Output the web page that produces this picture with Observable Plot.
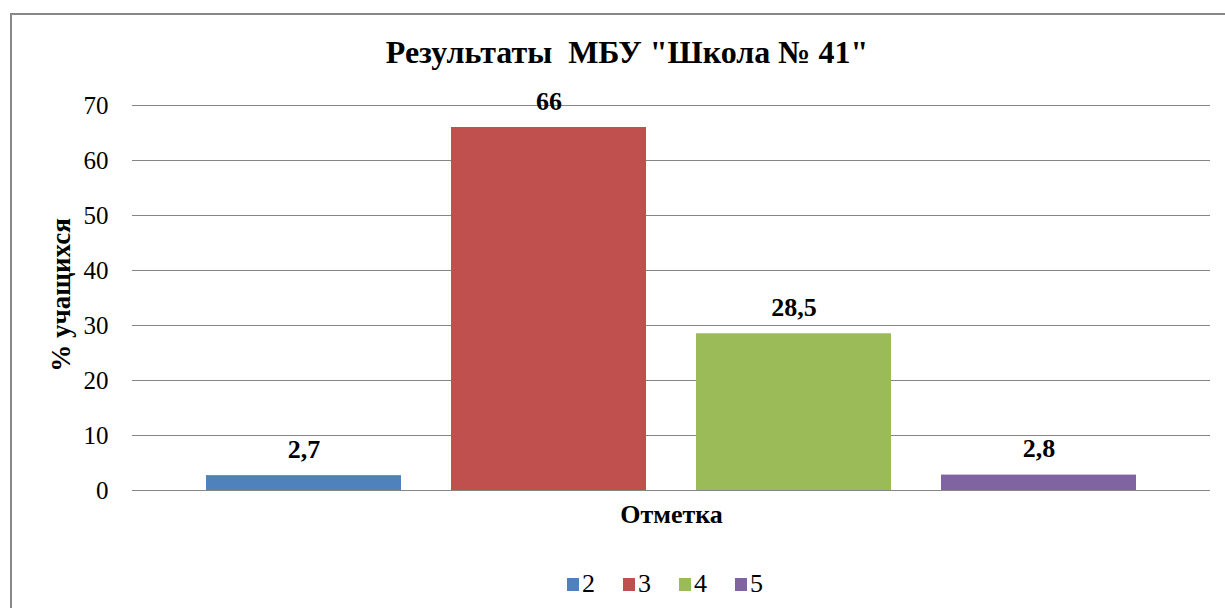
<!DOCTYPE html>
<html>
<head>
<meta charset="utf-8">
<script src="https://cdn.jsdelivr.net/npm/d3@7"></script>
<script src="https://cdn.jsdelivr.net/npm/@observablehq/plot@0.6"></script>
<style>
  html, body { margin: 0; padding: 0; background: #fff; }
  #wrap { position: relative; width: 1225px; height: 608px; overflow: hidden; font-family: 'Liberation Serif'; }
  #border { position: absolute; left: 10px; top: 13px; width: 1300px; height: 700px; border: 2.5px solid #888; box-sizing: border-box; }
  #title { position: absolute; left: 0; width: 1254px; top: 34px; line-height: 36px; text-align: center; font-family: 'Liberation Serif'; font-weight: bold; font-size: 32px; color: #000; white-space: pre; }
  #chart { position: absolute; left: 0; top: 0; }
  #legend { position: absolute; left: 0; width: 1330px; top: 569px; height: 30px; display: flex; justify-content: center; align-items: center; gap: 28px; font-family: 'Liberation Serif'; font-size: 26px; line-height: 30px; color: #000; }
  #legend .item { display: flex; align-items: center; }
  #legend .sw { display: inline-block; width: 12px; height: 13px; margin-right: 3px; margin-top: 1px; }
  #chart svg, #chart svg text { font-family: 'Liberation Serif'; }
</style>
</head>
<body>
<div id="wrap">
  <div id="border"></div>
  <div id="chart"></div>
  <div id="title"></div>
  <div id="legend"></div>
</div>
<script>
const title = 'Результаты  МБУ "Школа № 41"';
const categories = ["2", "3", "4", "5"];
const values = [2.7, 66, 28.5, 2.8];
const colors = ["#4F81BD", "#C0504D", "#9BBB59", "#8064A2"];
const yTicks = [0, 10, 20, 30, 40, 50, 60, 70];
const yLabel = "% учащихся";
const xLabel = "Отметка";

const data = categories.map((c, i) => ({ cat: c, value: values[i] }));
const fmt = v => String(v).replace(".", ",");
const serif = "Liberation Serif";
const bold = { fontFamily: serif, fontWeight: "bold", fill: "#000" };

const plot = Plot.plot({
  width: 1225,
  height: 608,
  marginLeft: 132,
  marginRight: 15,
  marginTop: 105,
  marginBottom: 118,
  style: { fontFamily: serif, background: "transparent", overflow: "visible" },
  x: { domain: categories, paddingInner: 0.204, paddingOuter: 0.302, axis: null },
  y: { domain: [0, 70], ticks: yTicks, axis: null },
  color: { domain: categories, range: colors },
  marks: [
    Plot.ruleY(yTicks, { stroke: "#868686", strokeWidth: 1.2 }),
    Plot.barY(data, { x: "cat", y: "value", fill: "cat" }),
    Plot.axisY(yTicks, { tickSize: 0, tickPadding: 24, fontSize: 25, fill: "#000", label: null, tickFormat: d => String(d), fontFamily: serif }),
    Plot.text(data, { x: "cat", y: "value", text: d => fmt(d.value), dy: -26, fontSize: 26, ...bold }),
    Plot.text([yLabel], { frameAnchor: "left", textAnchor: "middle", dx: -71, dy: -3, rotate: -90, fontSize: 27, ...bold }),
    Plot.text([xLabel], { frameAnchor: "bottom", dy: 32, fontSize: 26, ...bold })
  ]
});
document.getElementById("chart").appendChild(plot);
document.getElementById("title").textContent = title;

const legend = document.getElementById("legend");
categories.forEach((c, i) => {
  const item = document.createElement("span");
  item.className = "item";
  const sw = document.createElement("span");
  sw.className = "sw";
  sw.style.background = colors[i];
  item.appendChild(sw);
  item.appendChild(document.createTextNode(c));
  legend.appendChild(item);
});
</script>
</body>
</html>
